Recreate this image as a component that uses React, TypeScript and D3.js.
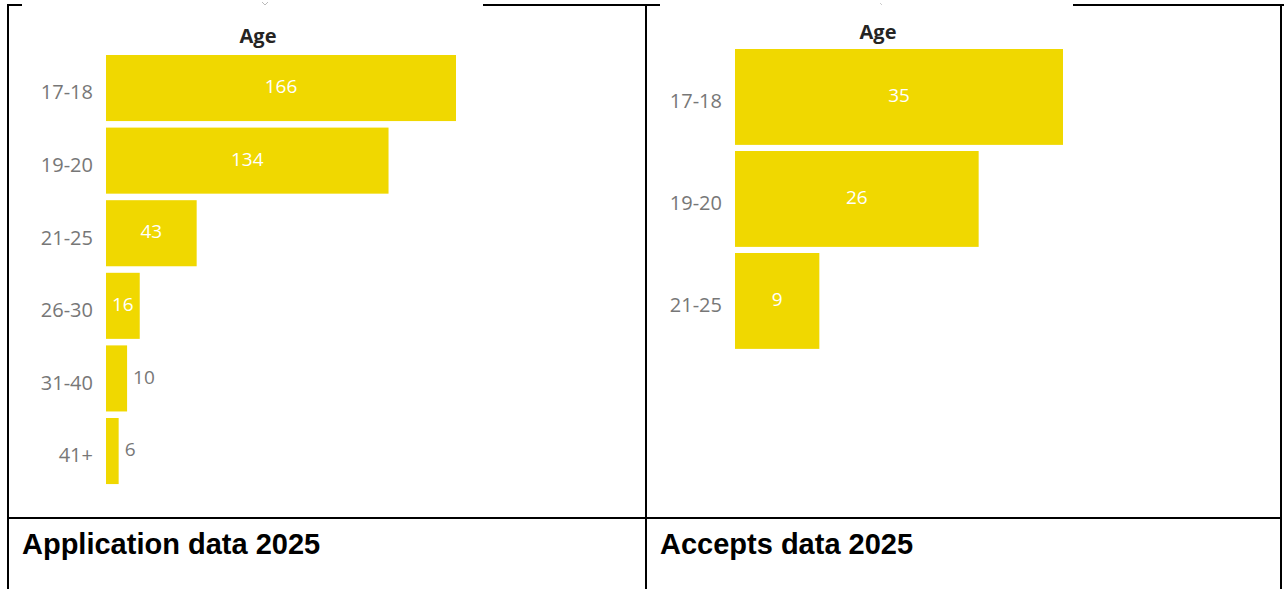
import React from "react";
import * as d3 from "d3";

const appCategories = ["17-18", "19-20", "21-25", "26-30", "31-40", "41+"];
const appValues = [166, 134, 43, 16, 10, 6];
const accCategories = ["17-18", "19-20", "21-25"];
const accValues = [35, 26, 9];
const chartTitle = "Age";
const captions = ["Application data 2025", "Accepts data 2025"];

const YELLOW = "#F0D800";

type PanelProps = {
  cats: string[];
  vals: number[];
  x0: number;
  xMaxPx: number;
  y0: number;
  step: number;
  pad: number;
  titleX: number;
  titleY: number;
  labelX: number;
};

function Panel({ cats, vals, x0, xMaxPx, y0, step, pad, titleX, titleY, labelX }: PanelProps) {
  const maxV = d3.max(vals) as number;
  const x = d3.scaleLinear().domain([0, maxV]).range([x0, xMaxPx]);
  const yStart = y0 - step * (pad / 2);
  const y = d3
    .scaleBand<string>()
    .domain(cats)
    .range([yStart, yStart + step * cats.length])
    .paddingInner(pad)
    .paddingOuter(pad / 2);
  const bw = y.bandwidth();
  return (
    <g>
      <text
        x={titleX}
        y={titleY}
        textAnchor="middle"
        fontFamily="'Open Sans', 'Noto Sans', sans-serif"
        fontWeight={700}
        fontSize={20}
        fill="#252423"
      >
        {chartTitle}
      </text>
      {cats.map((c, i) => {
        const v = vals[i];
        const yy = y(c) as number;
        const xe = x(v);
        const w = xe - x0;
        const inside = w > 30;
        const cy = yy + bw / 2;
        return (
          <g key={c}>
            <rect x={x0} y={yy} width={w} height={bw} fill={YELLOW} />
            <text
              x={labelX}
              y={cy + 6}
              textAnchor="end"
              dominantBaseline="middle"
              fontFamily="'Open Sans', 'Noto Sans', sans-serif"
              fontSize={20}
              fill="#777777"
            >
              {c}
            </text>
            <text
              x={inside ? (x0 + xe) / 2 : xe + 6}
              y={cy}
              textAnchor={inside ? "middle" : "start"}
              dominantBaseline="middle"
              fontFamily="'Open Sans', 'Noto Sans', sans-serif"
              fontSize={19}
              fill={inside ? "#FFFFFF" : "#777777"}
            >
              {String(v)}
            </text>
          </g>
        );
      })}
    </g>
  );
}

export default function App() {
  const W = 1284;
  const H = 589;
  return (
    <div style={{ position: "fixed", left: 0, top: 0, width: W, height: H, background: "#fff" }}>
      <svg width={W} height={H} style={{ display: "block" }}>
        <rect x={0} y={0} width={W} height={H} fill="#fff" />
        {/* table borders */}
        <g stroke="#000" strokeWidth={2} fill="none">
          <line x1={8} y1={5} x2={22} y2={5} />
          <line x1={483} y1={5} x2={660} y2={5} />
          <line x1={1073} y1={5} x2={1284} y2={5} />
          <line x1={8} y1={4} x2={8} y2={589} />
          <line x1={646} y1={4} x2={646} y2={589} />
          <line x1={1281} y1={4} x2={1281} y2={589} />
          <line x1={8} y1={518} x2={1282} y2={518} />
        </g>
        {/* small visual header marks */}
        <path d="M262,2 L265,5 L268,2" stroke="#bbb" strokeWidth={1} fill="none" />
        <path d="M880,3 L882,5" stroke="#ccc" strokeWidth={1} fill="none" />
        <Panel
          cats={appCategories}
          vals={appValues}
          x0={106}
          xMaxPx={456}
          y0={55}
          step={72.6}
          pad={0.09}
          titleX={258}
          titleY={43}
          labelX={93}
        />
        <Panel
          cats={accCategories}
          vals={accValues}
          x0={735}
          xMaxPx={1063}
          y0={49}
          step={102}
          pad={0.06}
          titleX={878}
          titleY={39}
          labelX={722}
        />
        {captions.map((t, i) => (
          <text
            key={t}
            x={i === 0 ? 22 : 660}
            y={554}
            fontFamily="'Liberation Sans', Arial, sans-serif"
            fontWeight={700}
            fontSize={29}
            fill="#000"
          >
            {t}
          </text>
        ))}
      </svg>
    </div>
  );
}
